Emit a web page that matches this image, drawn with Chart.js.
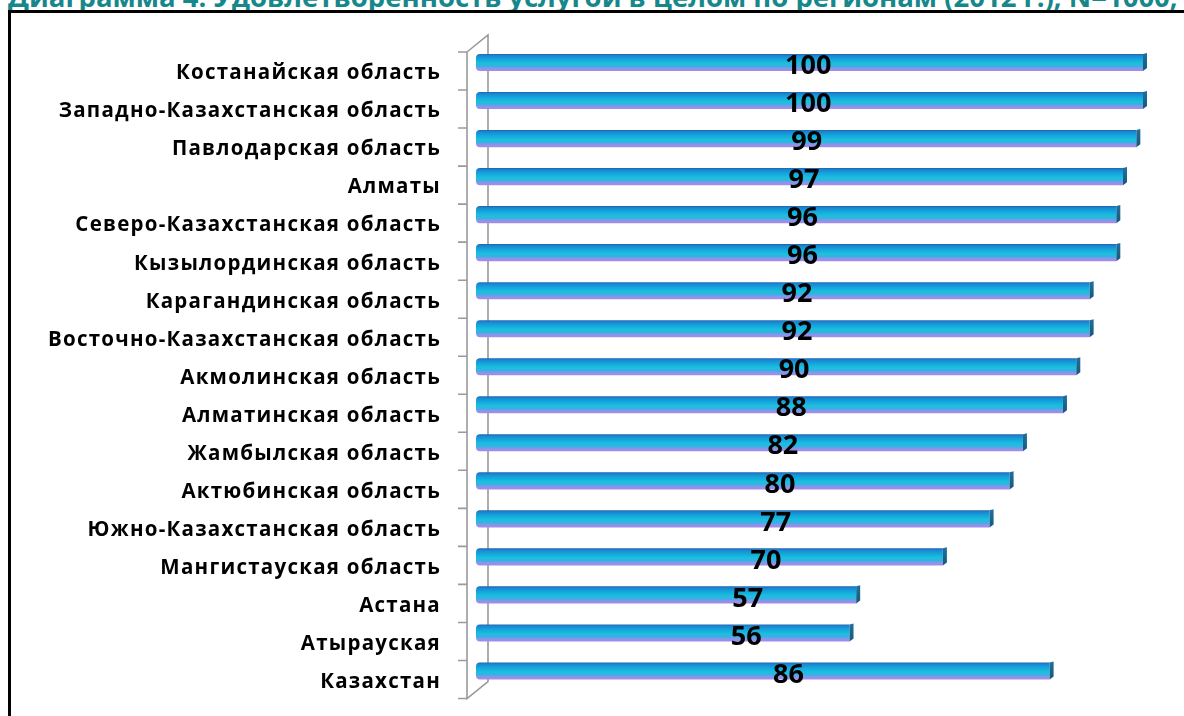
<!DOCTYPE html>
<html>
<head>
<meta charset="utf-8">
<script src="https://cdn.jsdelivr.net/npm/chart.js@4.4.1/dist/chart.umd.min.js"></script>
<style>
  html, body { margin: 0; padding: 0; background: #ffffff; overflow: hidden; width: 1184px; height: 716px; }
  #title { position: absolute; left: 8px; top: -17.5px; white-space: nowrap; font-family: "Open Sans", sans-serif; font-weight: 700; font-size: 27.5px; line-height: 27.5px; color: #16878b; }
  #frame { position: absolute; left: 8px; top: 10px; width: 1300px; height: 900px; border: 3px solid #000; box-sizing: border-box; }
  #wrap { position: absolute; left: 0; top: 0; width: 1184px; height: 716px; }
</style>
</head>
<body>
<div id="title">Диаграмма 4. Удовлетворенность услугой в целом по регионам (2012 г.), N=1000, %</div>
<div id="frame"></div>
<div id="wrap"><canvas id="c" width="1184" height="716"></canvas></div>
<script>
const categories = [
  "Костанайская область",
  "Западно-Казахстанская область",
  "Павлодарская область",
  "Алматы",
  "Северо-Казахстанская область",
  "Кызылординская область",
  "Карагандинская область",
  "Восточно-Казахстанская область",
  "Акмолинская область",
  "Алматинская область",
  "Жамбылская область",
  "Актюбинская область",
  "Южно-Казахстанская область",
  "Мангистауская область",
  "Астана",
  "Атырауская",
  "Казахстан"
];
const values = [100, 100, 99, 97, 96, 96, 92, 92, 90, 88, 82, 80, 77, 70, 57, 56, 86];
const axisMin = 0;
const axisMax = 100;

const tickFont = { family: '"Open Sans", sans-serif', weight: 'bold', size: 20.5 };
let tickSpacing = 0;

const spacingPlugin = {
  id: 'spacing',
  beforeDraw(chart) {
    const ctx = chart.ctx;
    ctx.save();
    ctx.letterSpacing = '0px';
    ctx.font = 'bold ' + tickFont.size + 'px ' + tickFont.family;
    const longest = categories.reduce((a, b) => (b.length > a.length ? b : a));
    const w = ctx.measureText(longest).width;
    ctx.restore();
    tickSpacing = Math.max(0, (393 - w) / longest.length);
    ctx.letterSpacing = tickSpacing.toFixed(2) + 'px';
  }
};

// 3D wall (left side) with category ticks
const wallPlugin = {
  id: 'wall',
  beforeDatasetsDraw(chart) {
    const ctx = chart.ctx;
    const y = chart.scales.y;
    const area = chart.chartArea;
    const step = y.getPixelForValue(1) - y.getPixelForValue(0);
    const frontX = area.left - 9, backX = area.left + 12;
    const dyF = 8.5, dyB = -8.5;
    const top = y.getPixelForValue(0) - step / 2;
    const bottom = y.getPixelForValue(categories.length - 1) + step / 2;
    ctx.save();
    ctx.strokeStyle = '#9a9a9a';
    ctx.lineWidth = 1.6;
    ctx.beginPath();
    ctx.moveTo(frontX, top + dyF); ctx.lineTo(frontX, bottom + dyF);
    ctx.lineTo(backX, bottom + dyB); ctx.lineTo(backX, top + dyB);
    ctx.lineTo(frontX, top + dyF);
    ctx.stroke();
    ctx.beginPath();
    for (let i = 0; i <= categories.length; i++) {
      const ty = top + i * step + dyF;
      ctx.moveTo(frontX - 9, ty); ctx.lineTo(frontX, ty);
    }
    ctx.stroke();
    ctx.restore();
  }
};

// gradient 3D-like bars + value labels
const barPlugin = {
  id: 'bars3d',
  afterDatasetsDraw(chart) {
    const ctx = chart.ctx;
    const meta = chart.getDatasetMeta(0);
    const xs = chart.scales.x;
    ctx.save();
    ctx.letterSpacing = '0px';
    meta.data.forEach((el, i) => {
      const p = el.getProps(['x', 'y', 'base', 'height'], true);
      const l = Math.min(p.base, p.x), r = Math.max(p.base, p.x);
      const t = p.y - p.height / 2, b = p.y + p.height / 2;
      const g = ctx.createLinearGradient(0, t, 0, b);
      g.addColorStop(0, '#2264ac');
      g.addColorStop(0.1, '#1a86d0');
      g.addColorStop(0.3, '#14a4de');
      g.addColorStop(0.55, '#1bbfdc');
      g.addColorStop(0.72, '#34b2e4');
      g.addColorStop(0.84, '#8a94ea');
      g.addColorStop(1, '#a68ce8');
      const rad = 4;
      ctx.fillStyle = g;
      ctx.beginPath();
      ctx.moveTo(l + rad, t);
      ctx.lineTo(r, t);
      ctx.lineTo(r, b);
      ctx.lineTo(l + rad, b);
      ctx.quadraticCurveTo(l, b, l, b - rad);
      ctx.lineTo(l, t + rad);
      ctx.quadraticCurveTo(l, t, l + rad, t);
      ctx.fill();
      // right end face
      const g2 = ctx.createLinearGradient(0, t, 0, b);
      g2.addColorStop(0, '#1f6f9c');
      g2.addColorStop(1, '#16577e');
      ctx.fillStyle = g2;
      ctx.beginPath();
      ctx.moveTo(r, t);
      ctx.lineTo(r + 4, t - 1);
      ctx.lineTo(r + 4, b - 3);
      ctx.lineTo(r, b);
      ctx.closePath();
      ctx.fill();
    });
    // value labels
    ctx.fillStyle = '#000';
    ctx.font = '700 27px "Open Sans", sans-serif';
    ctx.textAlign = 'center';
    ctx.textBaseline = 'middle';
    meta.data.forEach((el, i) => {
      const v = values[i];
      const lx = xs.getPixelForValue(28.7 + 0.211 * v);
      ctx.fillText(String(v), lx, el.y + 4);
    });
    ctx.restore();
  }
};

new Chart(document.getElementById('c'), {
  type: 'bar',
  data: {
    labels: categories,
    datasets: [{
      data: values,
      backgroundColor: 'rgba(0,0,0,0)',
      borderWidth: 0,
      barPercentage: 0.45,
      categoryPercentage: 1.0
    }]
  },
  options: {
    indexAxis: 'y',
    responsive: false,
    animation: false,
    devicePixelRatio: 1,
    layout: { padding: { left: 0, right: 41, top: 43.5, bottom: 26 } },
    plugins: { legend: { display: false }, tooltip: { enabled: false }, title: { display: false } },
    scales: {
      x: { display: false, min: axisMin, max: axisMax },
      y: {
        afterFit(scale) { scale.width = 476; scale.paddingTop = 0; scale.paddingBottom = 0; },
        grid: { display: false, drawTicks: false },
        border: { display: false },
        ticks: {
          autoSkip: false,
          padding: 35,
          labelOffset: 11,
          color: '#000',
          font: tickFont
        }
      }
    }
  },
  plugins: [spacingPlugin, wallPlugin, barPlugin]
});
</script>
</body>
</html>
